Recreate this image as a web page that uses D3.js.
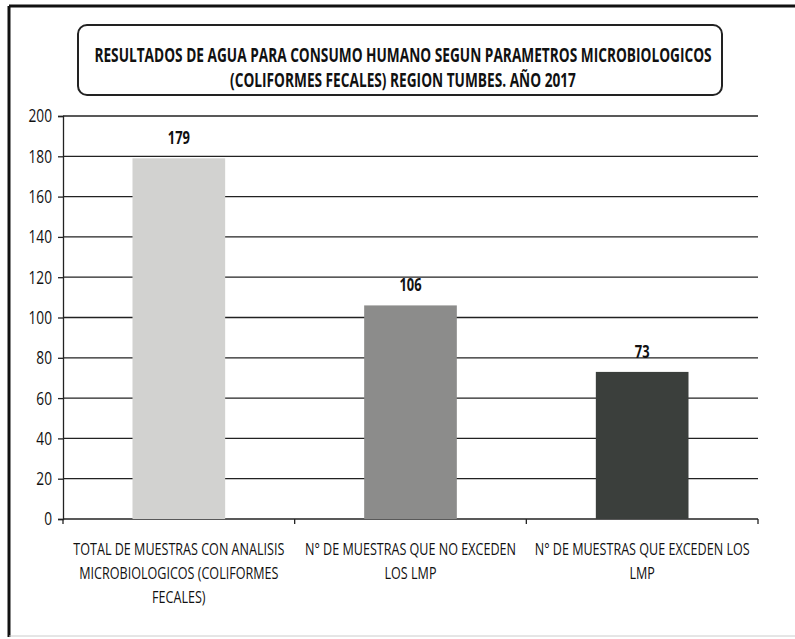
<!DOCTYPE html>
<html>
<head>
<meta charset="utf-8">
<script src="https://cdn.jsdelivr.net/npm/d3@7"></script>
<style>
  body { margin: 0; background: #fff; }
  text { font-family: "Open Sans", sans-serif; fill: #111; }
</style>
</head>
<body>
<div id="chart"></div>
<script>
// chart values
var categories = [
  ["TOTAL DE MUESTRAS CON ANALISIS", "MICROBIOLOGICOS (COLIFORMES", "FECALES)"],
  ["N° DE MUESTRAS QUE NO EXCEDEN", "LOS LMP"],
  ["N° DE MUESTRAS QUE EXCEDEN LOS", "LMP"]
];
var values = [179, 106, 73];
var barColors = ["#d2d2d0", "#8c8c8b", "#3b3f3c"];
var yTicks = [0, 20, 40, 60, 80, 100, 120, 140, 160, 180, 200];
var titleLines = [
  "RESULTADOS DE AGUA PARA CONSUMO HUMANO SEGUN PARAMETROS MICROBIOLOGICOS",
  "(COLIFORMES FECALES) REGION TUMBES. AÑO 2017"
];

var svgWidth = 795;
var svgHeight = 639;

var margin = { top: 116, right: 37, bottom: 120, left: 63 };
var width = svgWidth - margin.left - margin.right;
var height = 519 - margin.top;

// squeeze text horizontally (narrow font of the original) with a scale transform
function condense(selection, k) {
  selection.each(function() {
    var t = d3.select(this);
    var x = +t.attr("x") || 0;
    var y = +t.attr("y") || 0;
    t.attr("x", 0).attr("y", 0)
      .attr("transform", `translate(${x},${y}) scale(${k},1)`);
  });
}

var svg = d3.select("#chart")
  .append("svg")
  .attr("width", svgWidth)
  .attr("height", svgHeight);

// page frame (top + left dark, bottom faint)
svg.append("line").attr("x1", 9).attr("x2", svgWidth).attr("y1", 6).attr("y2", 6)
  .attr("stroke", "#111").attr("stroke-width", 3);
svg.append("line").attr("x1", 9).attr("x2", 9).attr("y1", 6).attr("y2", 637)
  .attr("stroke", "#111").attr("stroke-width", 3);
svg.append("line").attr("x1", 9).attr("x2", svgWidth).attr("y1", 636).attr("y2", 636)
  .attr("stroke", "#ccc").attr("stroke-width", 1);

// title box
svg.append("rect")
  .attr("x", 78).attr("y", 25)
  .attr("width", 644).attr("height", 70)
  .attr("rx", 9)
  .attr("fill", "none")
  .attr("stroke", "#222")
  .attr("stroke-width", 2);

svg.append("g").selectAll("text")
  .data(titleLines)
  .enter()
  .append("text")
  .attr("x", 403)
  .attr("y", (d, i) => 62 + i * 25)
  .attr("text-anchor", "middle")
  .style("font-size", "19px")
  .style("font-weight", "bold")
  .text(d => d)
  .call(condense, 0.72);

var chartGroup = svg.append("g")
  .attr("transform", `translate(${margin.left}, ${margin.top})`);

var xBandScale = d3.scaleBand()
  .domain(d3.range(values.length))
  .range([0, width])
  .paddingInner(0.6)
  .paddingOuter(0.3);

var yLinearScale = d3.scaleLinear()
  .domain([0, 200])
  .range([height, 0]);

// gridlines
chartGroup.append("g")
  .selectAll("line")
  .data(yTicks)
  .enter()
  .append("line")
  .attr("x1", 0)
  .attr("x2", width)
  .attr("y1", d => yLinearScale(d))
  .attr("y2", d => yLinearScale(d))
  .attr("stroke", "#222")
  .attr("stroke-width", 1.3);

// y axis
var leftAxis = d3.axisLeft(yLinearScale)
  .tickValues(yTicks)
  .tickSize(5)
  .tickPadding(6);

var yAxis = chartGroup.append("g").call(leftAxis);
yAxis.select(".domain").attr("stroke", "#222").attr("stroke-width", 1.3);
yAxis.selectAll(".tick line").attr("stroke", "#222").attr("stroke-width", 1.3);
yAxis.selectAll(".tick text")
  .style("font-size", "18.5px")
  .style("font-family", "'Open Sans', sans-serif")
  .attr("fill", "#111")
  .call(condense, 0.74);

// x axis tick marks at category boundaries
chartGroup.append("g")
  .selectAll("line")
  .data(d3.range(values.length + 1))
  .enter()
  .append("line")
  .attr("x1", d => d * xBandScale.step())
  .attr("x2", d => d * xBandScale.step())
  .attr("y1", height)
  .attr("y2", height + 5)
  .attr("stroke", "#222")
  .attr("stroke-width", 1.3);

// bars
chartGroup.append("g")
  .selectAll("rect")
  .data(values)
  .enter()
  .append("rect")
  .attr("x", (d, i) => xBandScale(i))
  .attr("y", d => yLinearScale(d))
  .attr("width", xBandScale.bandwidth())
  .attr("height", d => height - yLinearScale(d))
  .attr("fill", (d, i) => barColors[i]);

// value labels
chartGroup.append("g")
  .selectAll("text")
  .data(values)
  .enter()
  .append("text")
  .attr("x", (d, i) => xBandScale(i) + xBandScale.bandwidth() / 2)
  .attr("y", d => yLinearScale(d) - 14)
  .attr("text-anchor", "middle")
  .style("font-size", "17px")
  .style("font-weight", "bold")
  .text(d => d)
  .call(condense, 0.76);

// category labels, one text per line
chartGroup.append("g")
  .selectAll("g")
  .data(categories)
  .enter()
  .append("g")
  .attr("transform", (d, i) => `translate(${xBandScale(i) + xBandScale.bandwidth() / 2}, ${height + 36})`)
  .selectAll("text")
  .data(d => d)
  .enter()
  .append("text")
  .attr("x", 0)
  .attr("y", (d, i) => i * 24)
  .attr("text-anchor", "middle")
  .style("font-size", "17px")
  .text(d => d)
  .call(condense, 0.74);
</script>
</body>
</html>
